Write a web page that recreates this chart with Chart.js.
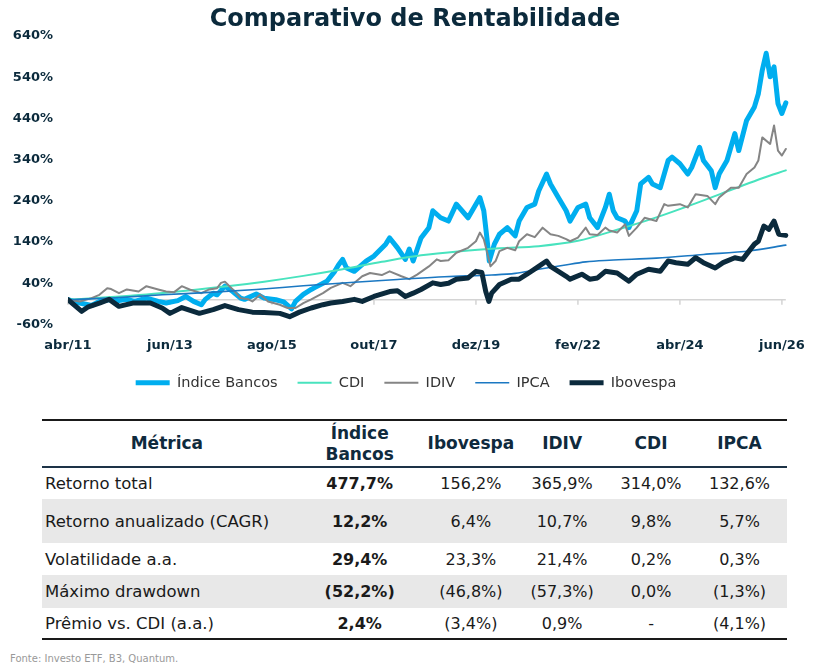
<!DOCTYPE html>
<html>
<head>
<meta charset="utf-8">
<script src="https://cdn.jsdelivr.net/npm/chart.js@4.4.0/dist/chart.umd.min.js"></script>
<style>
  body { margin: 0; background: #fff; font-family: 'DejaVu Sans', sans-serif; }
  .title { position: absolute; left: 0; top: 3px; width: 830px; text-align: center; font-size: 24px; line-height: 30px;
           font-weight: bold; color: #0B2A3C; }
  #wrap { position: absolute; left: 0; top: 0; width: 818px; height: 400px; }
  table { position: absolute; left: 42px; top: 419px; width: 745px; border-collapse: collapse; color: #1a1a1a; }
  thead th { font-size: 17px; font-weight: 700; color: #0f2a3d; height: 45px; line-height: 21px; padding: 0;
             border-top: 2px solid #1a1a1a; border-bottom: 2.5px solid #1d3347; }
  tbody td { font-size: 16px; text-align: center; padding: 0; }
  tbody td:first-child { text-align: left; padding-left: 3px; font-size: 16.5px; }
  tbody td:nth-child(2) { font-weight: 700; }
  tbody tr:nth-child(1) { height: 32px; }
  tbody tr:nth-child(2) { height: 44px; background: #e8e8e8; }
  tbody tr:nth-child(3) { height: 32px; }
  tbody tr:nth-child(4) { height: 33px; background: #e8e8e8; }
  tbody tr:nth-child(5) { height: 31px; }
  tbody tr:last-child td { border-bottom: 2px solid #1a1a1a; }
  .fonte { position: absolute; left: 10px; top: 653px; font-size: 10px; color: #999; }
</style>
</head>
<body>
<div id="wrap"><canvas id="chart"></canvas></div>
<div class="title">Comparativo de Rentabilidade</div>
<table id="stats">
  <colgroup><col style="width:250px"><col style="width:136px"><col style="width:86px"><col style="width:96px"><col style="width:82px"><col style="width:95px"></colgroup>
  <thead><tr id="head"></tr></thead>
  <tbody id="body"></tbody>
</table>
<div class="fonte">Fonte: Investo ETF, B3, Quantum.</div>
<script>
// eixo x: meses desde abr/11
var xTickMonths = [0, 26, 52, 78, 104, 130, 156, 182];
var xTickLabels = ['abr/11', 'jun/13', 'ago/15', 'out/17', 'dez/19', 'fev/22', 'abr/24', 'jun/26'];
var yTickValues = [-60, 40, 140, 240, 340, 440, 540, 640];
var lastMonth = 183;

var bancosMonths = [0,3,6,8,11,13,15,17,20,23,25,28,30,32,34,35,37,38,40,42,44,45,48,50,53,55,57,58,60,62,63,66,68,69,70,71,73,76,78,81,82,84,86,87,88,90,92,93,95,97,99,102,104,105,106,106.8,107.4,108.7,110,112,114,115,117,119,120,122,123,125,127,128,130,132,133,135,137,138,139,140,142,143,145,146,148,149,151,153,154,156,158,159,161,162,164,165,166,168,170,171,173,175,176,177,178,179,180,181,182,183];
var bancosValues = [0,-8,-14,-4,1,-2,1,-4,4,-4,-8,-2,8,-4,-12,1,16,12,33,20,4,1,14,4,0,-5,-22,-4,13,25,30,45,69,85,98,77,69,94,106,135,150,126,98,123,94,150,175,216,199,191,232,199,232,248,216,150,94,135,159,175,155,191,224,232,264,305,281,248,216,191,224,232,199,175,224,256,216,199,191,175,216,281,297,281,272,338,346,330,305,321,370,338,313,272,305,338,403,362,435,468,500,557,598,541,565,476,452,477.7];

var idivMonths = [0,3,6,8,10,11,13,15,18,20,23,25,27,29,31,34,36,38,39,40,42,44,46,47,49,51,54,56,58,60,62,65,67,70,72,75,77,80,82,85,87,89,92,94,95,97,99,102,104,105,106,107,107.7,109,110,112,114,115,117,119,121,123,125,127,128,130,132,133,135,137,138,140,142,143,145,147,150,152,153,156,158,160,163,165,166,169,171,173,175,176,177,179,180,181,182,183];
var idivValues = [0,-4,4,12,28,26,16,25,20,33,25,20,18,33,25,16,25,28,41,44,25,4,1,-4,13,-4,-12,-20,-20,-8,1,16,29,41,33,57,65,60,69,57,50,61,81,98,94,96,114,126,142,163,147,110,81,94,118,126,120,142,159,152,175,159,155,147,142,151,175,159,157,175,168,163,183,155,175,199,191,232,228,232,224,256,252,232,248,272,272,305,321,338,394,378,423,362,350,365.9];

var ibovMonths = [0,3.5,5,8,10.5,13,16.5,21,24,26,29,33.5,37,40,43.5,47,50,54,56.5,59,62,65,67,70,73,75,78,82,84,86,88,90,93,95,97,99,102,104,105.5,106.5,107.3,108,110,113,115,117,120,122,123,125,127,128,131,133,135,137,140,143,145,148,151,153,155,158,160,162,165,167,170,172,175,176,177.4,178.7,180,181.2,183];
var ibovValues = [0,-28,-18,-8,1,-16,-8,-8,-20,-33,-19,-33,-24,-14,-24,-30,-31,-33,-41,-30,-20,-12,-8,-4,1,-4,8,20,22,8,16,25,41,37,40,50,53,69,66,20,-4,16,37,50,50,62,81,94,81,69,57,50,62,50,53,69,65,45,62,74,69,94,90,86,102,90,77,90,102,98,135,142,179,171,191,159,156.2];

var cdiMonths = [0,10,20,30,40,50,60,70,80,90,100,110,120,130,140,150,160,170,177,183];
var cdiValues = [0,6,13,22,32,44,58,74,92,108,118,125,130,143,170,200,234,270,295,314.0];

var ipcaMonths = [0,12,24,36,48,60,72,84,96,108,114,120,126,132,138,150,162,174,183];
var ipcaValues = [0,5,12,18,25,34,42,49,56,60,64,74,83,92,96,101,110,119,132.6];

// tabela
var tableHeaders = ['Métrica', 'Índice<br>Bancos', 'Ibovespa', 'IDIV', 'CDI', 'IPCA'];
var metricNames = ['Retorno total', 'Retorno anualizado (CAGR)', 'Volatilidade a.a.', 'Máximo drawdown', 'Prêmio vs. CDI (a.a.)'];
var bancosStats = ['477,7%', '12,2%', '29,4%', '(52,2%)', '2,4%'];
var ibovStats = ['156,2%', '6,4%', '23,3%', '(46,8%)', '(3,4%)'];
var idivStats = ['365,9%', '10,7%', '21,4%', '(57,3%)', '0,9%'];
var cdiStats = ['314,0%', '9,8%', '0,2%', '0,0%', '-'];
var ipcaStats = ['132,6%', '5,7%', '0,3%', '(1,3%)', '(4,1%)'];

document.getElementById('head').innerHTML = tableHeaders.map(h => `<th>${h}</th>`).join('');
document.getElementById('body').innerHTML = metricNames.map((name, i) =>
    `<tr><td>${name}</td><td>${bancosStats[i]}</td><td>${ibovStats[i]}</td><td>${idivStats[i]}</td><td>${cdiStats[i]}</td><td>${ipcaStats[i]}</td></tr>`
).join('');

function toPoints(months, values) {
    return months.map((m, i) => ({ x: m, y: values[i] }));
}

// linha cinza do 0% com marcas nos ticks
var zeroLine = {
    id: 'zeroLine',
    beforeDatasetsDraw(chart) {
        var ctx = chart.ctx, area = chart.chartArea, sx = chart.scales.x;
        var y = chart.scales.y.getPixelForValue(0);
        ctx.save();
        ctx.strokeStyle = '#d4d4d4';
        ctx.lineWidth = 1.5;
        ctx.beginPath();
        ctx.moveTo(area.left, y);
        ctx.lineTo(sx.getPixelForValue(lastMonth), y);
        sx.ticks.forEach(t => {
            var x = sx.getPixelForValue(t.value);
            ctx.moveTo(x, y);
            ctx.lineTo(x, y + 5);
        });
        ctx.stroke();
        ctx.restore();
    }
};

var tickFont = { family: "'DejaVu Sans', sans-serif", size: 13, weight: 'bold' };

new Chart(document.getElementById('chart'), {
    type: 'line',
    data: {
        datasets: [
            { label: 'Índice Bancos', data: toPoints(bancosMonths, bancosValues), borderColor: '#00AEEF', backgroundColor: '#00AEEF', borderWidth: 5, order: 5 },
            { label: 'CDI', data: toPoints(cdiMonths, cdiValues), borderColor: '#48E3BE', backgroundColor: '#48E3BE', borderWidth: 2, cubicInterpolationMode: 'monotone', order: 4 },
            { label: 'IDIV', data: toPoints(idivMonths, idivValues), borderColor: '#858585', backgroundColor: '#858585', borderWidth: 2, order: 3 },
            { label: 'IPCA', data: toPoints(ipcaMonths, ipcaValues), borderColor: '#1B78C2', backgroundColor: '#1B78C2', borderWidth: 1.6, cubicInterpolationMode: 'monotone', order: 2 },
            { label: 'Ibovespa', data: toPoints(ibovMonths, ibovValues), borderColor: '#0B2A3C', backgroundColor: '#0B2A3C', borderWidth: 5, order: 1 }
        ]
    },
    options: {
        responsive: true,
        maintainAspectRatio: false,
        animation: false,
        layout: { padding: { left: 0, right: 6, top: 36, bottom: 0 } },
        elements: { point: { radius: 0 }, line: { tension: 0, borderJoinStyle: 'round', borderCapStyle: 'round' } },
        plugins: {
            title: { display: false },
            legend: {
                position: 'bottom',
                labels: {
                    usePointStyle: true,
                    pointStyle: 'line',
                    pointStyleWidth: 34,
                    padding: 20,
                    color: '#333',
                    font: { family: "'DejaVu Sans', sans-serif", size: 14.5 },
                    sort: (a, b) => a.datasetIndex - b.datasetIndex
                }
            },
            tooltip: { enabled: false }
        },
        scales: {
            x: {
                type: 'linear',
                min: 0,
                max: 188.5,
                grid: { display: false, drawTicks: false },
                border: { display: false },
                afterBuildTicks: s => { s.ticks = xTickMonths.map(v => ({ value: v })); },
                afterFit: s => { s.height = 31; },
                ticks: {
                    padding: 13,
                    maxRotation: 0,
                    autoSkip: false,
                    color: '#0B2A3C',
                    font: tickFont,
                    callback: (v, i) => xTickLabels[i]
                }
            },
            y: {
                min: -60,
                max: 640,
                grid: { display: false, drawTicks: false },
                border: { display: false },
                afterBuildTicks: s => { s.ticks = yTickValues.map(v => ({ value: v })); },
                afterFit: s => { s.width = 68; },
                ticks: {
                    padding: 15,
                    color: '#0B2A3C',
                    font: tickFont,
                    callback: v => v + '%'
                }
            }
        }
    },
    plugins: [zeroLine]
});
</script>
</body>
</html>
